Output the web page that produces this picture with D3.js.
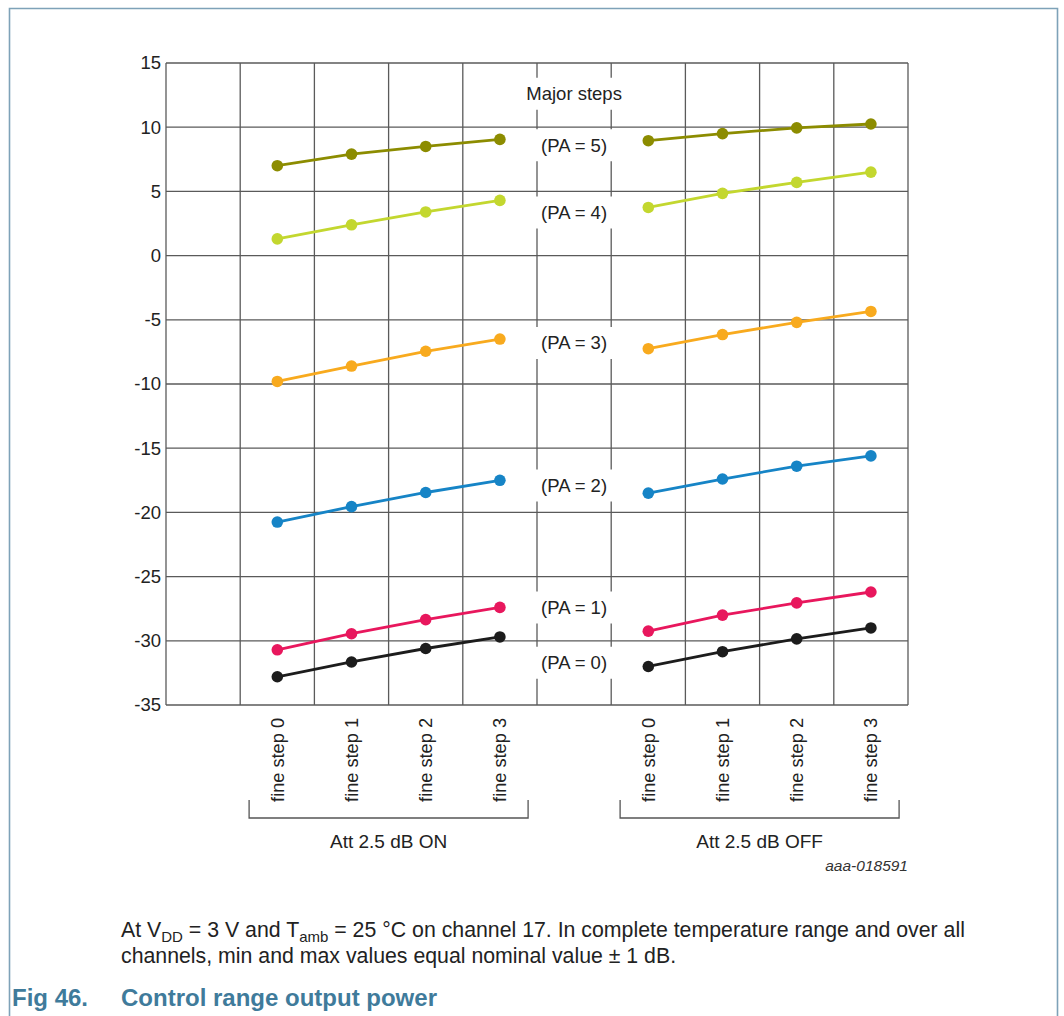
<!DOCTYPE html>
<html><head><meta charset="utf-8">
<script src="https://cdn.jsdelivr.net/npm/d3@7"></script>
<style>
body{margin:0;background:#fff;}
svg text{font-family:"Liberation Sans",Arial,sans-serif;}
</style></head>
<body><svg id="c" width="1064" height="1016"></svg>
<script>
// ---- data ----
const fineSteps = ["fine step 0","fine step 1","fine step 2","fine step 3"];
const groups = ["Att 2.5 dB ON","Att 2.5 dB OFF"];
const groupPos = [1.5, 6.5];          // x-position of fine step 0 within each group
const yTicks = [15,10,5,0,-5,-10,-15,-20,-25,-30,-35];
const seriesNames = ["PA = 5","PA = 4","PA = 3","PA = 2","PA = 1","PA = 0"];
const seriesColors = ["#8c8c00","#c3d72f","#f8aa1e","#1684c6","#e8175d","#1c1c1c"];
const pa5 = [[7.0,7.9,8.5,9.05],[8.95,9.5,9.95,10.25]];
const pa4 = [[1.3,2.4,3.4,4.3],[3.75,4.85,5.7,6.5]];
const pa3 = [[-9.8,-8.6,-7.45,-6.5],[-7.25,-6.15,-5.2,-4.35]];
const pa2 = [[-20.75,-19.55,-18.45,-17.5],[-18.5,-17.4,-16.4,-15.6]];
const pa1 = [[-30.7,-29.45,-28.35,-27.4],[-29.25,-28.0,-27.05,-26.2]];
const pa0 = [[-32.8,-31.65,-30.6,-29.7],[-32.0,-30.85,-29.85,-29.0]];
const seriesValues = [pa5,pa4,pa3,pa2,pa1,pa0];
const midLabels = ["Major steps","(PA = 5)","(PA = 4)","(PA = 3)","(PA = 2)","(PA = 1)","(PA = 0)"];
const midLabelY = [12.6,8.6,3.35,-6.8,-17.9,-27.4,-31.7];

// ---- layout ----
const svg = d3.select("#c");
const L=166,R=908,T=63,B=705;
const x = d3.scaleLinear().domain([0,10]).range([L,R]);
const y = d3.scaleLinear().domain([-35,15]).range([B,T]);
const gridColor="#5a5a5a";

// outer frame
svg.append("path").attr("d","M9.5,1016 V8.5 H1057.5 V1016")
  .attr("fill","none").attr("stroke","#7ea2b8").attr("stroke-width",1.6);

// horizontal grid
svg.append("g").selectAll("line").data(yTicks).join("line")
  .attr("x1",L).attr("x2",R).attr("y1",d=>y(d)).attr("y2",d=>y(d))
  .attr("stroke",gridColor).attr("stroke-width",1.3);

// vertical grid (with gaps in middle column at labels)
const gap=16;
const vx = d3.range(0,11);
const vg = svg.append("g");
vx.forEach(v=>{
  if(v===5||v===6){
    const ys = midLabelY.map(d=>y(d)).sort((a,b)=>a-b);
    let cur=T;
    ys.forEach(yy=>{
      vg.append("line").attr("x1",x(v)).attr("x2",x(v)).attr("y1",cur).attr("y2",yy-gap)
        .attr("stroke",gridColor).attr("stroke-width",1.3);
      cur=yy+gap;
    });
    vg.append("line").attr("x1",x(v)).attr("x2",x(v)).attr("y1",cur).attr("y2",B)
      .attr("stroke",gridColor).attr("stroke-width",1.3);
  } else {
    vg.append("line").attr("x1",x(v)).attr("x2",x(v)).attr("y1",T).attr("y2",B)
      .attr("stroke",gridColor).attr("stroke-width",1.3);
  }
});

// y axis labels
svg.append("g").selectAll("text").data(yTicks).join("text")
  .attr("x",L-5).attr("y",d=>y(d)).attr("dy","0.35em")
  .attr("text-anchor","end").attr("font-size",18.5).attr("fill","#222").text(d=>d);

// middle labels
svg.append("g").selectAll("text").data(midLabels).join("text")
  .attr("x",(x(5)+x(6))/2).attr("y",(d,i)=>y(midLabelY[i])).attr("dy","0.35em")
  .attr("text-anchor","middle").attr("font-size",18.5).attr("fill","#222").text(d=>d);

// series
const line = d3.line().x(d=>x(d[0])).y(d=>y(d[1]));
seriesValues.forEach((sv,si)=>{
  sv.forEach((vals,gi)=>{
    const pts = vals.map((v,k)=>[groupPos[gi]+k, v]);
    svg.append("path").attr("d",line(pts)).attr("fill","none")
      .attr("stroke",seriesColors[si]).attr("stroke-width",2.8);
    svg.append("g").selectAll("circle").data(pts).join("circle")
      .attr("cx",d=>x(d[0])).attr("cy",d=>y(d[1])).attr("r",5.8)
      .attr("fill",seriesColors[si]);
  });
});

// x labels
groups.forEach((g,gi)=>{
  fineSteps.forEach((f,k)=>{
    const cx = x(groupPos[gi]+k);
    svg.append("text").attr("transform",`translate(${cx+6.5},${B+13}) rotate(-90)`)
      .attr("text-anchor","end").attr("font-size",18.2).attr("fill","#222").text(f);
  });
  const x0 = x(groupPos[gi]-0.38), x1 = x(groupPos[gi]+3.38);
  svg.append("path").attr("d",`M${x0},800 V818 H${x1} V800`).attr("fill","none")
    .attr("stroke","#555").attr("stroke-width",1.3);
  svg.append("text").attr("x",x(groupPos[gi]+1.5)).attr("y",848)
    .attr("text-anchor","middle").attr("font-size",19).attr("fill","#222").text(g);
});

svg.append("text").attr("x",R).attr("y",871).attr("text-anchor","end")
  .attr("font-size",15.5).attr("font-style","italic").attr("fill","#333").text("aaa-018591");

// caption
const cap = svg.append("text").attr("x",121).attr("y",937).attr("font-size",21.3).attr("fill","#222");
cap.append("tspan").text("At V");
cap.append("tspan").attr("font-size",15).attr("dy",5).text("DD");
cap.append("tspan").attr("dy",-5).text(" = 3 V and T");
cap.append("tspan").attr("font-size",15).attr("dy",5).text("amb");
cap.append("tspan").attr("dy",-5).text(" = 25 °C on channel 17. In complete temperature range and over all");
svg.append("text").attr("x",121).attr("y",963).attr("font-size",21.3).attr("fill","#222")
  .text("channels, min and max values equal nominal value ± 1 dB.");

svg.append("text").attr("x",12).attr("y",1006).attr("font-size",24).attr("font-weight","bold")
  .attr("fill","#3f7b9b").text("Fig 46.");
svg.append("text").attr("x",121).attr("y",1006).attr("font-size",24).attr("font-weight","bold")
  .attr("fill","#3f7b9b").text("Control range output power");
</script></body></html>
